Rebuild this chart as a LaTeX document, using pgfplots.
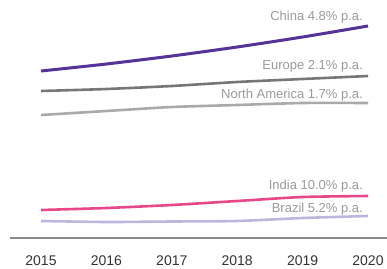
\documentclass[border=0pt]{standalone}
\usepackage{pgfplots}
\pgfplotsset{compat=1.18}
\usepackage{fontspec}
\setmainfont{Liberation Sans}
\definecolor{china}{HTML}{553399}
\definecolor{europe}{HTML}{777777}
\definecolor{namer}{HTML}{AAAAAA}
\definecolor{india}{HTML}{E8488A}
\definecolor{brazil}{HTML}{BDB6DE}
\definecolor{lbl}{HTML}{9A9A9A}
\begin{document}
\begin{tikzpicture}
\begin{axis}[
  scale only axis, width=377pt, height=238pt,
  xmin=2014.526, xmax=2020.29, ymin=0, ymax=238,
  axis x line=bottom, axis y line=none,
  axis line style={-, draw=black!45, line width=1.2pt},
  xtick={2015,...,2020}, major tick length=0pt,
  xticklabel style={anchor=base, yshift=-27pt, font=\fontsize{14}{16}\selectfont, text=black!80},
  /pgf/number format/assume math mode=true,
  xticklabel={\pgfmathprintnumber[1000 sep={}]{\tick}},
  clip=false,
  every axis plot/.append style={smooth, tension=0.4, no marks, line width=2.6pt},
]
\addplot[china, line width=3pt] coordinates {(2015,167) (2016,174) (2017,182) (2018,191) (2019,201) (2020,212)};
\addplot[europe] coordinates {(2015,147) (2016,149) (2017,152) (2018,156) (2019,159) (2020,162)};
\addplot[namer] coordinates {(2015,123) (2016,127) (2017,131) (2018,133) (2019,135) (2020,135)};
\addplot[india] coordinates {(2015,28) (2016,30) (2017,33) (2018,37) (2019,41) (2020,42)};
\addplot[brazil] coordinates {(2015,17) (2016,16) (2017,16.5) (2018,17) (2019,20) (2020,22)};
\begin{scope}[every node/.style={anchor=base east, inner sep=0pt, text=lbl, font=\fontsize{13}{15}\selectfont}]
\node at ([xshift=-5pt]axis cs:2020,217.3) {China 4.8\% p.a.};
\node at ([xshift=-5pt]axis cs:2020,168) {Europe 2.1\% p.a.};
\node at ([xshift=-5pt]axis cs:2020,140) {North America 1.7\% p.a.};
\node at ([xshift=-5pt]axis cs:2020,49) {India 10.0\% p.a.};
\node at ([xshift=-5pt]axis cs:2020,26) {Brazil 5.2\% p.a.};
\end{scope}
\end{axis}
\pgfresetboundingbox
\path (current axis.south west) ++(-10pt,-30pt) rectangle (current axis.north east);
\end{tikzpicture}
\end{document}
